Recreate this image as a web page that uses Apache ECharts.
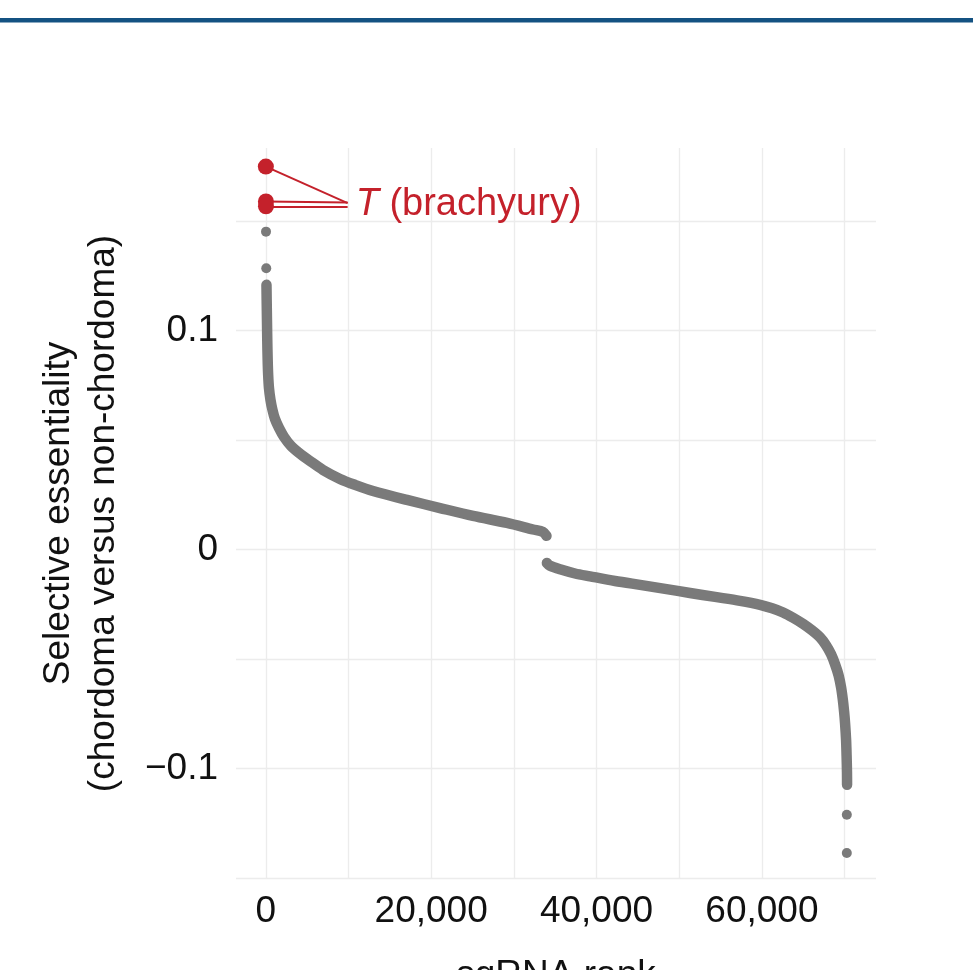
<!DOCTYPE html>
<html>
<head>
<meta charset="utf-8">
<script src="https://cdn.jsdelivr.net/npm/echarts@6/dist/echarts.min.js"></script>
<style>
html,body{margin:0;padding:0;background:#ffffff;}
#chart{width:973px;height:970px;}
</style>
</head>
<body>
<div id="chart"></div>
<script>
// ---- data ----
// upper branch of the ranked curve (positive selective essentiality)
const upperRank  = [85, 109, 145, 181, 230, 290, 387, 569, 810, 1113, 1597, 2202, 3048, 4016, 5347, 6919, 8975, 10790, 12967, 17080, 21072, 25064, 29177, 32321, 33531, 33950];
const upperValue = [0.1208, 0.1139, 0.1048, 0.0957, 0.0865, 0.0797, 0.0737, 0.0683, 0.0637, 0.0596, 0.0555, 0.0514, 0.0473, 0.0441, 0.0404, 0.0363, 0.0322, 0.0295, 0.0267, 0.0226, 0.0189, 0.0153, 0.0121, 0.0091, 0.0080, 0.0062];
// lower branch of the ranked curve (negative selective essentiality)
const lowerRank  = [34000, 34378, 35587, 37402, 39216, 42240, 45264, 48288, 51312, 54336, 57361, 59780, 61232, 62562, 63772, 64982, 66070, 67038, 67764, 68369, 68853, 69276, 69578, 69784, 69941, 70062, 70183, 70244, 70290, 70300];
const lowerValue = [-0.0062, -0.0075, -0.0091, -0.0110, -0.0123, -0.0144, -0.0162, -0.0180, -0.0199, -0.0217, -0.0235, -0.0253, -0.0269, -0.0288, -0.0312, -0.0340, -0.0370, -0.0402, -0.0438, -0.0479, -0.0525, -0.0575, -0.0630, -0.0685, -0.0740, -0.0795, -0.0870, -0.0943, -0.1016, -0.1075];
// isolated grey sgRNAs at both extremes
const outlierRank  = [30, 60, 70270, 70270];
const outlierValue = [0.1451, 0.1284, -0.1212, -0.1386];
// highlighted T (brachyury) sgRNAs
const tRank  = [10, 20, 25];
const tValue = [0.1748, 0.1589, 0.1567];
const tLabelText = 'T';
const tLabelRest = ' (brachyury)';
// label anchor (data space) and connector end points
const tLabelRank = 9900;
const tLabelValue = 0.1575;
const tConnectorEnd = [0.1581, 0.1584, 0.1566];
// axes
const xGridValues  = [0, 10000, 20000, 30000, 40000, 50000, 60000, 70000];
const xLabelValues = [0, 20000, 40000, 60000];
const yGridValues  = [-0.15, -0.1, -0.05, 0, 0.05, 0.1, 0.15];
const yLabelValues = [-0.1, 0, 0.1];
const xTitle = 'sgRNA rank';
const yTitle = 'Selective essentiality\n(chordoma versus non-chordoma)';

// ---- chart ----
const FONT = '"Liberation Sans", Arial, Helvetica, sans-serif';
const GREY = '#7a7a7a';
const RED = '#c4212b';
const zip = (a, b) => a.map((v, i) => [v, b[i]]);

const chart = echarts.init(document.getElementById('chart'), null, {renderer: 'canvas'});
chart.setOption({
  animation: false,
  backgroundColor: '#ffffff',
  textStyle: {fontFamily: FONT},
  graphic: [{
    type: 'rect', left: 0, top: 18, silent: true,
    shape: {width: 973, height: 4.5},
    style: {fill: '#145282'}
  }],
  grid: {left: 236, right: 97, top: 148, bottom: 91, containLabel: false, outerBoundsMode: 'none'},
  xAxis: {
    type: 'value', min: -3600, max: 73800,
    name: xTitle, nameLocation: 'middle', nameGap: 78,
    nameTextStyle: {fontSize: 37, color: '#111', fontFamily: FONT},
    axisLine: {show: false},
    axisTick: {show: false, customValues: xGridValues},
    splitLine: {show: true, lineStyle: {color: '#ececec', width: 1.3}},
    axisLabel: {
      customValues: xLabelValues, margin: 14, fontSize: 37, color: '#111', fontFamily: FONT,
      formatter: v => Number(v).toLocaleString('en-US')
    }
  },
  yAxis: {
    type: 'value', min: -0.1505, max: 0.1833,
    name: yTitle, nameLocation: 'middle', nameGap: 110,
    nameTextStyle: {fontSize: 37, lineHeight: 45, color: '#111', fontFamily: FONT, align: 'center'},
    axisLine: {show: false},
    axisTick: {show: false, customValues: yGridValues},
    splitLine: {show: true, lineStyle: {color: '#ececec', width: 1.3}},
    axisLabel: {
      customValues: yLabelValues, margin: 18, fontSize: 37, color: '#111', fontFamily: FONT,
      formatter: v => (v === 0 ? '0' : (v < 0 ? '\u2212' : '') + String(Math.abs(v)))
    }
  },
  series: [
    {
      type: 'line', name: 'upper', data: zip(upperRank, upperValue),
      showSymbol: false, symbol: 'none', silent: true, z: 2, smooth: 0.3,
      lineStyle: {color: GREY, width: 10.5, cap: 'round', join: 'round', opacity: 1}
    },
    {
      type: 'line', name: 'lower', data: zip(lowerRank, lowerValue),
      showSymbol: false, symbol: 'none', silent: true, z: 2, smooth: 0.3,
      lineStyle: {color: GREY, width: 10.5, cap: 'round', join: 'round', opacity: 1}
    },
    {
      type: 'scatter', name: 'outliers', data: zip(outlierRank, outlierValue),
      symbolSize: 10, silent: true, z: 2,
      itemStyle: {color: GREY, opacity: 1}
    },
    {
      type: 'scatter', name: 'label', data: [[tLabelRank, tLabelValue]],
      symbolSize: 0, silent: true, z: 3,
      itemStyle: {color: RED, opacity: 1},
      label: {
        show: true, position: 'right', distance: 8, opacity: 1,
        formatter: '{i|' + tLabelText + '}{r|' + tLabelRest + '}',
        rich: {
          i: {fontSize: 38, color: RED, fontStyle: 'italic', fontFamily: FONT},
          r: {fontSize: 38, color: RED, fontFamily: FONT}
        }
      },
      markLine: {
        silent: true, symbol: ['none', 'none'], z: 3,
        label: {show: false},
        lineStyle: {color: RED, width: 2, type: 'solid', opacity: 1},
        data: tRank.map((r, i) => [
          {coord: [r, tValue[i]]},
          {coord: [tLabelRank, tConnectorEnd[i]]}
        ])
      }
    },
    {
      type: 'scatter', name: 'T (brachyury)', data: zip(tRank, tValue),
      symbolSize: 16, silent: true, z: 5,
      itemStyle: {color: RED, opacity: 1}
    }
  ]
});
</script>
</body>
</html>
